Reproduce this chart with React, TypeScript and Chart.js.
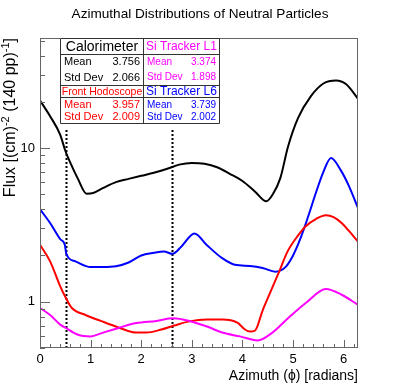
import { useEffect, useRef } from 'react';
import { Chart, registerables } from 'chart.js';

Chart.register(...registerables);

// ---- data ----
const calPhi = [0, 0.2, 0.4, 0.5, 0.6, 0.75, 0.92, 1.05, 1.25, 1.5, 1.75, 2.0, 2.25, 2.5, 2.75, 3.0, 3.25, 3.5, 3.75, 4.0, 4.25, 4.47, 4.6, 4.75, 4.9, 5.1, 5.35, 5.6, 5.85, 6.05, 6.28];
const calFlux = [20.4, 16.1, 12.2, 9.6, 8.0, 6.3, 5.05, 5.1, 5.5, 6.0, 6.3, 6.6, 6.9, 7.3, 7.8, 8.0, 7.9, 7.5, 6.8, 6.1, 5.2, 4.5, 5.0, 6.4, 10.2, 15.7, 21.7, 26.3, 27.5, 26.0, 21.0];

const l6Phi = [0, 0.2, 0.4, 0.49, 0.52, 0.7, 1.0, 1.25, 1.5, 1.75, 2.0, 2.25, 2.45, 2.62, 2.8, 3.05, 3.3, 3.6, 3.85, 4.15, 4.4, 4.65, 4.85, 5.0, 5.15, 5.3, 5.45, 5.6, 5.75, 5.95, 6.1, 6.28];
const l6Flux = [4.0, 3.25, 2.55, 2.35, 2.05, 1.83, 1.68, 1.68, 1.70, 1.80, 2.0, 2.08, 2.12, 2.05, 2.3, 2.78, 2.33, 1.92, 1.74, 1.71, 1.66, 1.57, 1.68, 2.0, 2.6, 3.6, 5.1, 7.0, 8.6, 7.1, 5.7, 4.1];

const fhPhi = [0, 0.2, 0.4, 0.51, 0.63, 0.9, 1.2, 1.55, 1.9, 2.1, 2.4, 2.65, 2.95, 3.3, 3.6, 3.9, 4.05, 4.15, 4.25, 4.4, 4.55, 4.7, 4.9, 5.1, 5.25, 5.45, 5.65, 5.8, 5.96, 6.1, 6.28];
const fhFlux = [2.35, 1.83, 1.26, 1.06, 0.91, 0.82, 0.75, 0.68, 0.63, 0.63, 0.66, 0.70, 0.745, 0.765, 0.765, 0.73, 0.66, 0.64, 0.65, 0.88, 1.15, 1.5, 2.15, 2.7, 3.1, 3.45, 3.65, 3.55, 3.25, 2.9, 2.47];

const l1Phi = [0, 0.2, 0.4, 0.51, 0.75, 1.0, 1.22, 1.55, 1.9, 2.3, 2.63, 2.95, 3.3, 3.6, 3.95, 4.3, 4.58, 4.9, 5.25, 5.65, 5.96, 6.28];
const l1Flux = [0.91, 0.82, 0.71, 0.675, 0.61, 0.595, 0.625, 0.675, 0.726, 0.75, 0.78, 0.75, 0.69, 0.63, 0.595, 0.56, 0.625, 0.78, 0.98, 1.21, 1.11, 0.956];

const cutPhi = [Math.PI / 6, (5 * Math.PI) / 6];
const cutRange = [0.5, 13.5];

const xTickValues = [0, 1, 2, 3, 4, 5, 6];
const yTickValues = [1, 10];

const statNames = ['Calorimeter', 'Si Tracker L1', 'Front Hodoscope', 'Si Tracker L6'];
const statMeans = ['3.756', '3.374', '3.957', '3.739'];
const statStdDevs = ['2.066', '1.898', '2.009', '2.002'];
const statColors = ['#000000', '#ff00ff', '#ff0000', '#0000ff'];

const TITLE = 'Azimuthal Distributions of Neutral Particles';
const XTITLE = 'Azimuth (\u03D5) [radians]';

const FONT = "'Liberation Sans', Arial, Helvetica, sans-serif";

const pts = (xs: number[], ys: number[]) => xs.map((x, i) => ({ x, y: ys[i] }));

const curve = (label: string, xs: number[], ys: number[], color: string) => ({
  label,
  data: pts(xs, ys),
  borderColor: color,
  backgroundColor: color,
  borderWidth: 2,
  pointRadius: 0,
  fill: false,
  cubicInterpolationMode: 'monotone' as const,
});

const decor = {
  id: 'decor',
  afterDraw(chart: any) {
    const ctx: CanvasRenderingContext2D = chart.ctx;
    const { left, right, top, bottom } = chart.chartArea;
    const xs = chart.scales.x;
    const ys = chart.scales.y;
    ctx.save();

    // frame
    ctx.strokeStyle = '#666';
    ctx.lineWidth = 1;
    ctx.strokeRect(left + 0.5, top + 0.5, right - left - 1, bottom - top - 1);

    // x ticks (inward)
    ctx.beginPath();
    for (let i = 0; i <= 40; i++) {
      const v = i * 0.2;
      if (v > xs.max + 1e-9) break;
      const px = Math.round(xs.getPixelForValue(v)) + 0.5;
      const len = i % 5 === 0 ? 8 : 4;
      ctx.moveTo(px, bottom);
      ctx.lineTo(px, bottom - len);
    }
    // y ticks (inward)
    for (let d = -1; d <= 1; d++) {
      for (let m = 1; m <= 9; m++) {
        const v = m * Math.pow(10, d);
        if (v < ys.min || v > ys.max) continue;
        const py = Math.round(ys.getPixelForValue(v)) + 0.5;
        const len = m === 1 ? 10 : 5;
        ctx.moveTo(left, py);
        ctx.lineTo(left + len, py);
      }
    }
    ctx.stroke();

    // title
    ctx.fillStyle = '#000';
    ctx.font = `13.6px ${FONT}`;
    ctx.textAlign = 'center';
    ctx.textBaseline = 'middle';
    ctx.fillText(TITLE, 200, 14);

    // x title
    ctx.textAlign = 'right';
    ctx.font = `14px ${FONT}`;
    ctx.fillText(XTITLE, right, 376);

    // y title with superscripts
    ctx.save();
    ctx.translate(11, top);
    ctx.rotate(-Math.PI / 2);
    const parts: [string, boolean][] = [
      ['Flux [(cm)', false],
      ['-2', true],
      [' (140 pp)', false],
      ['-1', true],
      [']', false],
    ];
    const big = `16px ${FONT}`;
    const small = `11px ${FONT}`;
    let total = 0;
    for (const [t, sup] of parts) {
      ctx.font = sup ? small : big;
      total += ctx.measureText(t).width;
    }
    let x = -total;
    ctx.textAlign = 'left';
    ctx.textBaseline = 'middle';
    for (const [t, sup] of parts) {
      ctx.font = sup ? small : big;
      ctx.fillText(t, x, sup ? -5 : 0);
      x += ctx.measureText(t).width;
    }
    ctx.restore();

    // stats boxes
    const bx0 = 60, bx1 = 143, bx2 = 219;
    const by0 = 38, by1 = 54, by2 = 85, by3 = 97, by4 = 123;
    ctx.fillStyle = '#fff';
    ctx.fillRect(bx0, by0, bx2 - bx0, by4 - by0);
    ctx.strokeStyle = '#333';
    ctx.lineWidth = 1;
    ctx.beginPath();
    ctx.rect(bx0 + 0.5, by0 + 0.5, bx2 - bx0, by4 - by0);
    ctx.moveTo(bx1 + 0.5, by0);
    ctx.lineTo(bx1 + 0.5, by4);
    for (const yy of [by1, by2, by3]) {
      ctx.moveTo(bx0, yy + 0.5);
      ctx.lineTo(bx2, yy + 0.5);
    }
    ctx.stroke();

    const cells = [
      { x0: bx0, x1: bx1, hy: (by0 + by1) / 2 + 1, m: 62, s: 77.5, hf: 14, sf: 11 },
      { x0: bx1, x1: bx2, hy: (by0 + by1) / 2 + 1, m: 62, s: 77.5, hf: 12, sf: 10 },
      { x0: bx0, x1: bx1, hy: (by2 + by3) / 2 + 1, m: 105, s: 117, hf: 10.5, sf: 11 },
      { x0: bx1, x1: bx2, hy: (by2 + by3) / 2 + 1, m: 105, s: 117, hf: 12, sf: 10 },
    ];
    cells.forEach((c, i) => {
      ctx.fillStyle = statColors[i];
      ctx.textBaseline = 'middle';
      ctx.textAlign = 'center';
      ctx.font = `${c.hf}px ${FONT}`;
      ctx.fillText(statNames[i], (c.x0 + c.x1) / 2 + 0.5, c.hy);
      ctx.font = `${c.sf}px ${FONT}`;
      ctx.textAlign = 'left';
      ctx.fillText('Mean', c.x0 + 4, c.m);
      ctx.fillText('Std Dev', c.x0 + 4, c.s);
      ctx.textAlign = 'right';
      ctx.fillText(statMeans[i], c.x1 - 3, c.m);
      ctx.fillText(statStdDevs[i], c.x1 - 3, c.s);
    });

    ctx.restore();
  },
};

export default function App() {
  const ref = useRef<HTMLCanvasElement>(null);
  useEffect(() => {
    document.body.style.margin = '0';
    const canvas = ref.current;
    if (!canvas) return;
    const cutSets = cutPhi.map((p, i) => ({
      label: 'cut' + i,
      data: [
        { x: p, y: cutRange[0] },
        { x: p, y: cutRange[1] },
      ],
      borderColor: '#000',
      borderWidth: 2,
      borderDash: [2, 2],
      pointRadius: 0,
      fill: false,
    }));
    const chart = new Chart(canvas, {
      type: 'line',
      data: {
        datasets: [
          curve('Si Tracker L1', l1Phi, l1Flux, '#ff00ff'),
          curve('Front Hodoscope', fhPhi, fhFlux, '#ff0000'),
          curve('Si Tracker L6', l6Phi, l6Flux, '#0000ff'),
          curve('Calorimeter', calPhi, calFlux, '#000000'),
          ...cutSets,
        ] as any,
      },
      options: {
        animation: false,
        responsive: true,
        maintainAspectRatio: false,
        layout: { padding: { top: 38, right: 41, left: 0, bottom: 0 } },
        plugins: { legend: { display: false }, tooltip: { enabled: false }, title: { display: false } },
        scales: {
          x: {
            type: 'linear',
            min: 0,
            max: 2 * Math.PI,
            grid: { display: false, drawTicks: false },
            border: { display: false },
            afterBuildTicks: (s: any) => {
              s.ticks = xTickValues.map((v) => ({ value: v }));
            },
            afterFit: (s: any) => {
              s.height = 39;
            },
            ticks: {
              autoSkip: false,
              maxRotation: 0,
              padding: 4,
              color: '#000',
              font: { family: FONT, size: 13 },
              callback: (v: any) => String(v),
            },
          },
          y: {
            type: 'logarithmic',
            min: 0.5,
            max: 52,
            grid: { display: false, drawTicks: false },
            border: { display: false },
            afterBuildTicks: (s: any) => {
              s.ticks = yTickValues.map((v) => ({ value: v }));
            },
            afterFit: (s: any) => {
              s.width = 40;
            },
            ticks: {
              autoSkip: false,
              padding: 5,
              color: '#000',
              font: { family: FONT, size: 13 },
              callback: (v: any) => String(v),
            },
          },
        },
      },
      plugins: [decor],
    });
    return () => chart.destroy();
  }, []);
  return (
    <div style={{ position: 'relative', width: 399, height: 387 }}>
      <canvas ref={ref} />
    </div>
  );
}
